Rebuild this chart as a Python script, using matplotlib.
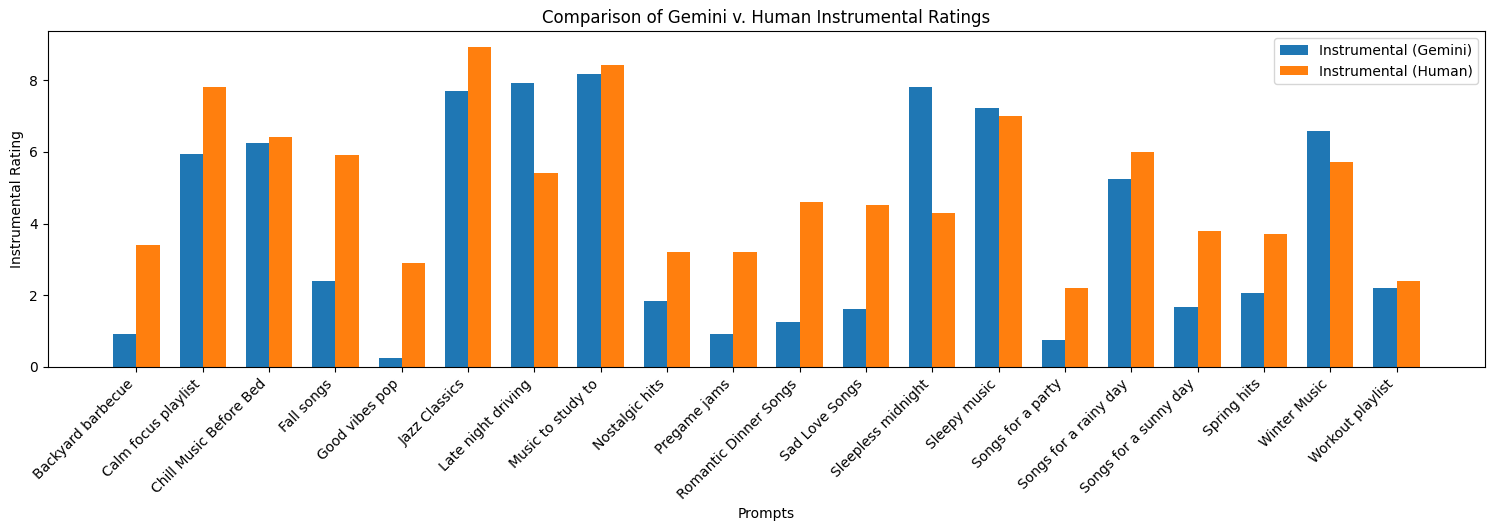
import matplotlib
matplotlib.use("Agg")
import matplotlib.pyplot as plt
import numpy as np

prompts = ["Backyard barbecue", "Calm focus playlist", "Chill Music Before Bed", "Fall songs",
           "Good vibes pop", "Jazz Classics", "Late night driving", "Music to study to",
           "Nostalgic hits", "Pregame jams", "Romantic Dinner Songs", "Sad Love Songs",
           "Sleepless midnight", "Sleepy music", "Songs for a party", "Songs for a rainy day",
           "Songs for a sunny day", "Spring hits", "Winter Music", "Workout playlist"]
gemini = [0.92, 5.94, 6.25, 2.40, 0.25, 7.70, 7.93, 8.18, 1.84, 0.92,
          1.26, 1.62, 7.81, 7.23, 0.75, 5.25, 1.67, 2.07, 6.59, 2.20]
human = [3.40, 7.81, 6.42, 5.92, 2.90, 8.93, 5.41, 8.43, 3.21, 3.21,
         4.60, 4.52, 4.30, 7.00, 2.20, 6.00, 3.80, 3.71, 5.72, 2.40]

fig, ax = plt.subplots(figsize=(14.94, 5.31), dpi=100)
fig.subplots_adjust(left=0.0321, right=0.994, top=0.9416, bottom=0.3089)

x = np.arange(len(prompts))
w = 0.35
ax.bar(x - w/2, gemini, w, label="Instrumental (Gemini)", color="#1f77b4")
ax.bar(x + w/2, human, w, label="Instrumental (Human)", color="#ff7f0e")
ax.set_xticks(x)
ax.set_xticklabels(prompts, rotation=45, ha="right")
ax.set_xlabel("Prompts")
ax.set_ylabel("Instrumental Rating")
ax.set_title("Comparison of Gemini v. Human Instrumental Ratings")
ax.legend(loc="upper right")

fig.savefig("out.png", dpi=100)
